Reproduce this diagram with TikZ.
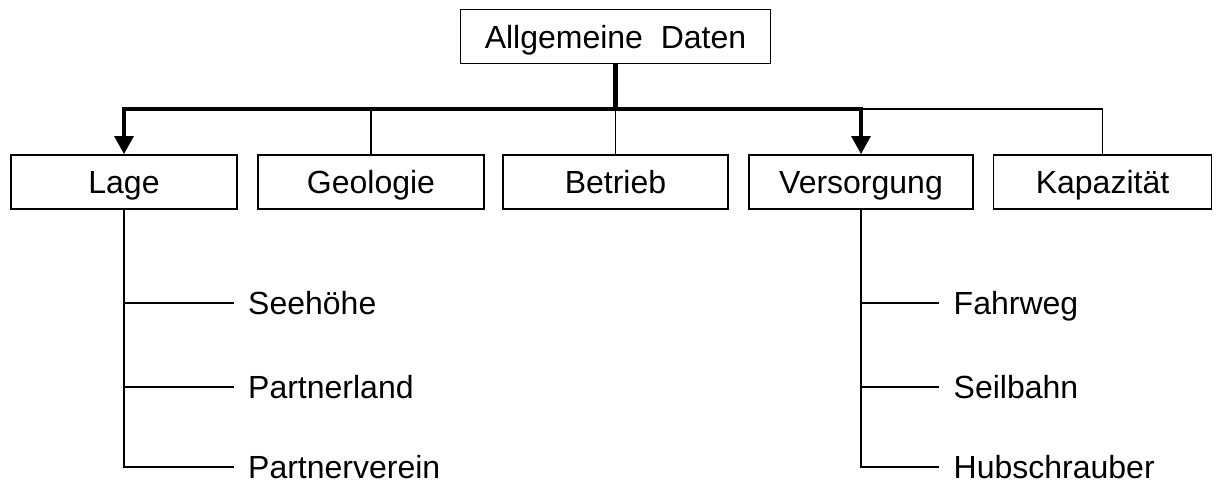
\documentclass[tikz,border=0pt]{standalone}
\usepackage{fontspec}
\setmainfont{Liberation Sans}
\usetikzlibrary{arrows.meta}
\begin{document}
\begin{tikzpicture}[x=1pt,y=-1pt,
  box/.style={draw,line width=1.9pt,minimum height=54pt,inner sep=0pt,font=\fontsize{32}{36}\selectfont,text height=23pt,text depth=0pt},
  leaf/.style={anchor=west,inner xsep=14.5pt,inner ysep=0pt,font=\fontsize{32}{36}\selectfont,text height=23pt,text depth=0pt},
  thin/.style={line width=1.9pt},
  bus/.style={line width=3.2pt},
  stem/.style={line width=4.6pt},
  tip/.style={-{Triangle[width=19pt,length=18pt]}}]
\useasboundingbox (0,0) rectangle (1216,483);
\node[box,minimum width=310pt] (top) at (615.5,36.5) {Allgemeine\ \ Daten};
\node[box,minimum width=226pt] (lage) at (124,182) {Lage};
\node[box,minimum width=226pt] (geo) at (371,182) {Geologie};
\node[box,minimum width=225pt] (bet) at (615.5,182) {Betrieb};
\node[box,minimum width=224pt] (vers) at (861,182) {Versorgung};
\node[box,minimum width=218pt] (kap) at (1102.5,182) {Kapazität};
\coordinate (bus) at (615.5,109);
\draw[thin] (bus) -| (geo.north);
\draw[thin] (bus) -- (bet.north);
\draw[thin] (bus -| vers.north) -| (kap.north);
\draw[bus,tip] (bus) -| (lage.north);
\draw[bus,tip] (bus) -| (vers.north);
\draw[stem] (top.south) -- (bus);
% Lage leaves
\node[leaf] (see) at (233.5,303) {Seehöhe};
\node[leaf] (pland) at (233.5,387) {Partnerland};
\node[leaf] (pver) at (233.5,467) {Partnerverein};
\draw[thin] (lage.south) |- (pver.west);
\draw[thin] (lage.south |- see.west) -- (see.west);
\draw[thin] (lage.south |- pland.west) -- (pland.west);
% Versorgung leaves
\node[leaf] (fahr) at (939,303) {Fahrweg};
\node[leaf] (seil) at (939,387) {Seilbahn};
\node[leaf] (hub) at (939,467) {Hubschrauber};
\draw[thin] (vers.south) |- (hub.west);
\draw[thin] (vers.south |- fahr.west) -- (fahr.west);
\draw[thin] (vers.south |- seil.west) -- (seil.west);
\end{tikzpicture}
\end{document}
